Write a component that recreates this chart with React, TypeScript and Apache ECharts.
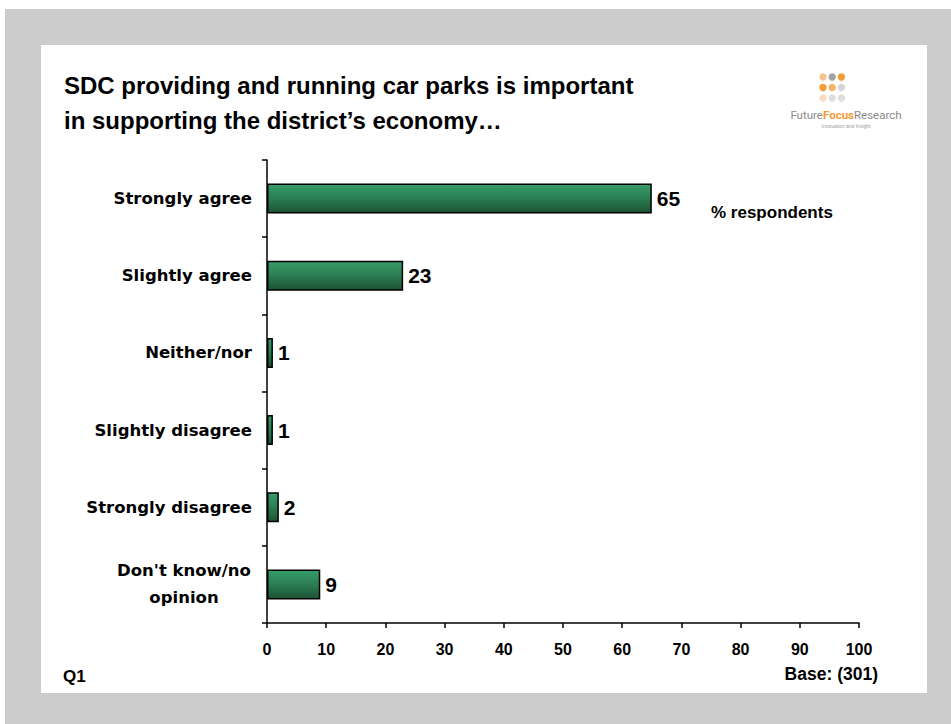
import React, { useEffect, useRef } from "react";
import * as echarts from "echarts";

const categories = [
  "Strongly agree",
  "Slightly agree",
  "Neither/nor",
  "Slightly disagree",
  "Strongly disagree",
  "Don't know/no\nopinion",
];
const values = [65, 23, 1, 1, 2, 9];
const titleLines = [
  "SDC providing and running car parks is important",
  "in supporting the district\u2019s economy\u2026",
];
const xTicks = { min: 0, max: 100, interval: 10 };
const logoDotColors = [
  ["#f7c48f", "#a3a3a3", "#f39a33"],
  ["#f39a33", "#f5b468", "#d6d6d6"],
  ["#f9dcc0", "#dedede", "#dedede"],
];

export default function App() {
  const ref = useRef<HTMLDivElement>(null);
  useEffect(() => {
    if (!ref.current) return;
    const chart = echarts.init(ref.current, null, { renderer: "svg" });
    const font = "'Liberation Sans', Arial, sans-serif";
    const catFont = "'DejaVu Sans', sans-serif";
    const dots: any[] = [];
    logoDotColors.forEach((row, r) =>
      row.forEach((c, k) =>
        dots.push({
          type: "circle",
          shape: { cx: 823 + k * 9.2, cy: 77 + r * 10.5, r: 3.7 },
          style: { fill: c },
          z: 10,
        })
      )
    );
    chart.setOption({
      animation: false,
      backgroundColor: "#ffffff",
      graphic: [
        { type: "rect", shape: { x: 5, y: 9, width: 946, height: 715 }, style: { fill: "#cccccc" }, z: -10 },
        { type: "rect", shape: { x: 41, y: 45, width: 886, height: 648 }, style: { fill: "#ffffff" }, z: -9 },
        {
          type: "text",
          x: 64,
          y: 85,
          style: { text: titleLines[0], font: `bold 24px ${font}`, fill: "#000", verticalAlign: "middle" },
        },
        {
          type: "text",
          x: 64,
          y: 120,
          style: { text: titleLines[1], font: `bold 24px ${font}`, fill: "#000", verticalAlign: "middle" },
        },
        ...dots,
        {
          type: "text",
          x: 846,
          y: 115,
          style: {
            text: "{a|Future}{b|Focus}{a|Research}",
            align: "center",
            verticalAlign: "middle",
            rich: {
              a: { fontSize: 11.5, fontFamily: "Roboto, sans-serif", fill: "#8a8a8a" },
              b: { fontSize: 11.5, fontFamily: "Roboto, sans-serif", fontWeight: "bold", fill: "#f39a33" },
            },
          },
          z: 10,
        },
        {
          type: "text",
          x: 846,
          y: 126,
          style: { text: "Innovation and Insight", fontSize: 5, fill: "#999", align: "center", verticalAlign: "middle", fontFamily: font },
          z: 10,
        },
        {
          type: "text",
          x: 711,
          y: 212,
          style: { text: "% respondents", font: `bold 17px ${font}`, fill: "#000", verticalAlign: "middle" },
        },
        {
          type: "text",
          x: 63,
          y: 676,
          style: { text: "Q1", font: `bold 17px ${font}`, fill: "#000", verticalAlign: "middle" },
        },
        {
          type: "text",
          x: 878,
          y: 674,
          style: { text: "Base: (301)", font: `bold 17.5px ${font}`, fill: "#000", align: "right", verticalAlign: "middle" },
        },
      ],
      grid: { left: 267, top: 160, width: 592, height: 463, containLabel: false },
      xAxis: {
        type: "value",
        min: xTicks.min,
        max: xTicks.max,
        interval: xTicks.interval,
        splitLine: { show: false },
        axisLine: { show: true, lineStyle: { color: "#000", width: 1.5 } },
        axisTick: { show: true, length: 5, lineStyle: { color: "#000", width: 1.5 } },
        axisLabel: { color: "#000", fontWeight: "bold", fontSize: 16, fontFamily: font, margin: 18 },
      },
      yAxis: {
        type: "category",
        data: categories,
        inverse: true,
        axisLine: { show: true, lineStyle: { color: "#000", width: 1.5 } },
        axisTick: { show: true, length: 5, alignWithLabel: false, interval: 0, lineStyle: { color: "#000", width: 1.5 } },
        axisLabel: {
          color: "#000",
          fontWeight: "bold",
          fontSize: 16.5,
          fontFamily: catFont,
          margin: 15,
          formatter: (v: string) =>
            v.indexOf("\n") >= 0
              ? v
                  .split("\n")
                  .map((s) => `{c|${s}}`)
                  .join("\n")
              : v,
          rich: {
            c: {
              width: 136,
              align: "center",
              lineHeight: 27,
              fontWeight: "bold",
              fontSize: 16.5,
              fontFamily: catFont,
              color: "#000",
            },
          },
        },
      },
      series: [
        {
          type: "bar",
          data: values,
          barWidth: 30,
          itemStyle: {
            color: new echarts.graphic.LinearGradient(0, 0, 0, 1, [
              { offset: 0, color: "#379c6a" },
              { offset: 0.5, color: "#2a7d52" },
              { offset: 1, color: "#1c5234" },
            ]),
            borderColor: "#000",
            borderWidth: 1.5,
          },
          label: {
            show: true,
            position: "right",
            distance: 5,
            color: "#000",
            fontWeight: "bold",
            fontSize: 21,
            fontFamily: font,
          },
        },
      ],
    });
    return () => chart.dispose();
  }, []);
  return (
    <div
      ref={ref}
      style={{ position: "fixed", left: 0, top: 0, width: 951, height: 724 }}
    />
  );
}
